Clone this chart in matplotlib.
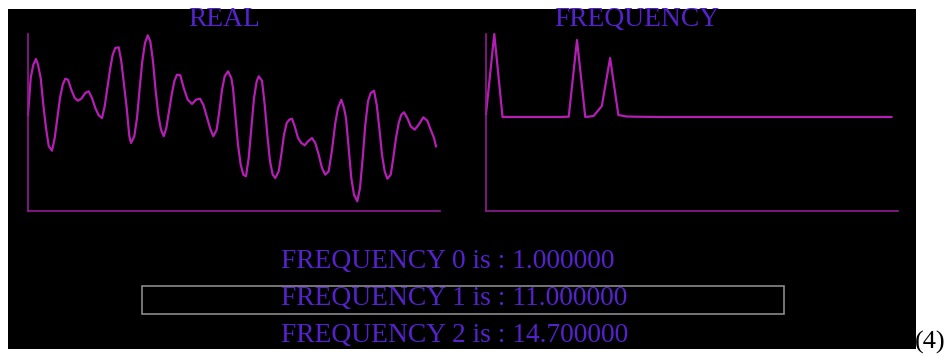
import matplotlib
matplotlib.use("Agg")
import matplotlib.pyplot as plt
from matplotlib.patches import Rectangle

# ---------------- data ----------------
real_t = [0, 2.7, 5.3, 8, 10, 12.7, 15.3, 18, 20.7, 24, 26.7, 29.3, 32, 34.7, 37.3, 40,
          43.3, 46.7, 50, 53.3, 57.3, 60.7, 64, 67.3, 70.7, 74, 76.7, 79.3, 82, 84.7, 87.3,
          90.7, 93.3, 96, 98.7, 101.3, 103, 106.3, 109, 111.7, 114.3, 117, 119.7, 122.3,
          125, 127.7, 130.3, 133, 135.7, 138.3, 141, 143.7, 146.3, 149, 152.3, 155.7,
          159.7, 164, 168, 172, 175.3, 178.7, 182, 185.3, 188.7, 191.3, 194, 196.7, 200,
          203.3, 205, 207.3, 210, 212.7, 215.3, 218, 220.7, 223.3, 226, 228.7, 230.7, 234,
          236.7, 239.3, 242, 244.7, 247.3, 250.7, 253.3, 256, 258.7, 261.3, 264, 266.7,
          270, 273.3, 276.7, 280, 284, 287.3, 290.7, 294, 297.3, 300.7, 304, 307.3, 310,
          313.3, 316, 318, 320.7, 323.3, 326, 329.3, 332, 334.7, 337.3, 340, 342.7, 346,
          348.7, 351.3, 354, 356.7, 359.3, 362.7, 365.3, 368, 370.7, 373.3, 376, 379.3,
          382.7, 386.7, 390.7, 395.3, 399.3, 402.7, 406, 408]
real_v = [96.3, 133, 146.3, 152, 146.3, 133, 106.3, 83, 65, 60.3, 73, 93, 113, 126.3,
          132.3, 131.3, 121.3, 113, 110.3, 112.3, 118, 119.7, 113, 103, 95.7, 93, 104.7,
          123, 141.3, 156.3, 163, 163.7, 149.7, 126.3, 103, 75, 68, 74.7, 93, 123, 149.7,
          168, 175.7, 169.7, 149.7, 119.7, 96.3, 81.3, 74.7, 83, 99.7, 116.3, 129.7, 136.3,
          135.7, 123, 111.3, 107, 111.3, 112.3, 106.3, 94.7, 83, 74.7, 81.3, 99.7, 121.3,
          134.7, 139.7, 133, 123, 96.3, 66.3, 46.3, 36.3, 34.7, 53, 83, 113, 129.7, 134.7,
          130.3, 106.3, 76.3, 49.7, 36.3, 33, 39.7, 56.3, 76.3, 88, 91.3, 92.3, 84.7, 73,
          68, 65.7, 69.7, 73, 68, 56.3, 43, 36.3, 39.7, 61, 88, 103, 111.3, 103, 93, 63, 33,
          16.3, 9.7, 23, 53, 86.3, 109.7, 118, 120.3, 106.3, 83, 56.3, 39.7, 32.3, 36.3,
          53, 73, 88, 96.3, 98.7, 93, 84.7, 81.3, 86.3, 93.7, 90.3, 81.3, 73, 64.7]

freq_bins = list(range(50))
freq_mag = [3, 83, 0, 0, 0, 0, 0, 0, 0, 0,
            0.3, 77, 0, 1, 11, 59, 2, 0.5, 0.3, 0.2,
            0.1, 0, 0, 0, 0, 0, 0, 0, 0, 0,
            0, 0, 0, 0, 0, 0, 0, 0, 0, 0,
            0, 0, 0, 0, 0, 0, 0, 0, 0, 0]

titles = ["REAL", "FREQUENCY"]
freq_values = [1.0, 11.0, 14.7]
caption = "(4)"

# ---------------- style ----------------
W, H = 949, 356
TXT = "#5522cc"
CURVE = "#b41eb4"
AXC = "#921c92"
SERIF = ["Liberation Serif", "DejaVu Serif"]

fig = plt.figure(figsize=(W / 100, H / 100), dpi=100)
fig.patch.set_facecolor("white")


def fx(px):
    return px / W


def fy(py):
    return 1 - py / H


fig.add_artist(Rectangle((fx(8), fy(349)), fx(916) - fx(8), fy(9) - fy(349),
                         transform=fig.transFigure, facecolor="black",
                         edgecolor="none", zorder=0))


def make_axes(x0, x1, y0, y1):
    ax = fig.add_axes([fx(x0), fy(y1), fx(x1) - fx(x0), fy(y0) - fy(y1)])
    ax.set_facecolor("none")
    for s in ("top", "right"):
        ax.spines[s].set_visible(False)
    for s in ("left", "bottom"):
        ax.spines[s].set_color(AXC)
        ax.spines[s].set_linewidth(1.2)
    ax.set_xticks([])
    ax.set_yticks([])
    return ax


# REAL plot
ax1 = make_axes(28, 440, 34, 211)
ax1.plot(real_t, real_v, color=CURVE, lw=1.6, clip_on=False, solid_joinstyle="round")
ax1.set_xlim(0, 412)
ax1.set_ylim(0, 177)

# FREQUENCY plot
ax2 = make_axes(486, 898, 34, 211)
ax2.plot(freq_bins, freq_mag, color=CURVE, lw=1.6, clip_on=False, solid_joinstyle="round")
ax2.set_xlim(0, 49.8)
ax2.set_ylim(-94, 83)

FS = 19.8

# Titles
fig.text(fx(224), fy(26), titles[0], color=TXT, fontsize=FS, family=SERIF,
         ha="center", va="baseline")
fig.text(fx(637), fy(26), titles[1], color=TXT, fontsize=FS, family=SERIF,
         ha="center", va="baseline")

# Frequency lines
baselines = [268, 305, 342]
for i, (v, b) in enumerate(zip(freq_values, baselines)):
    fig.text(fx(281), fy(b), f"FREQUENCY {i} is : {v:f}", color=TXT, fontsize=FS,
             family=SERIF, ha="left", va="baseline")

# Selection box
fig.add_artist(Rectangle((fx(142), fy(314)), fx(784) - fx(142), fy(286) - fy(314),
                         transform=fig.transFigure, facecolor="none",
                         edgecolor="#8a8a8a", linewidth=1.2))

# Caption
fig.text(fx(946), fy(349), caption, color="black", fontsize=19, family=SERIF,
         ha="right", va="baseline")

fig.savefig("out.png", dpi=100, facecolor=fig.get_facecolor())
